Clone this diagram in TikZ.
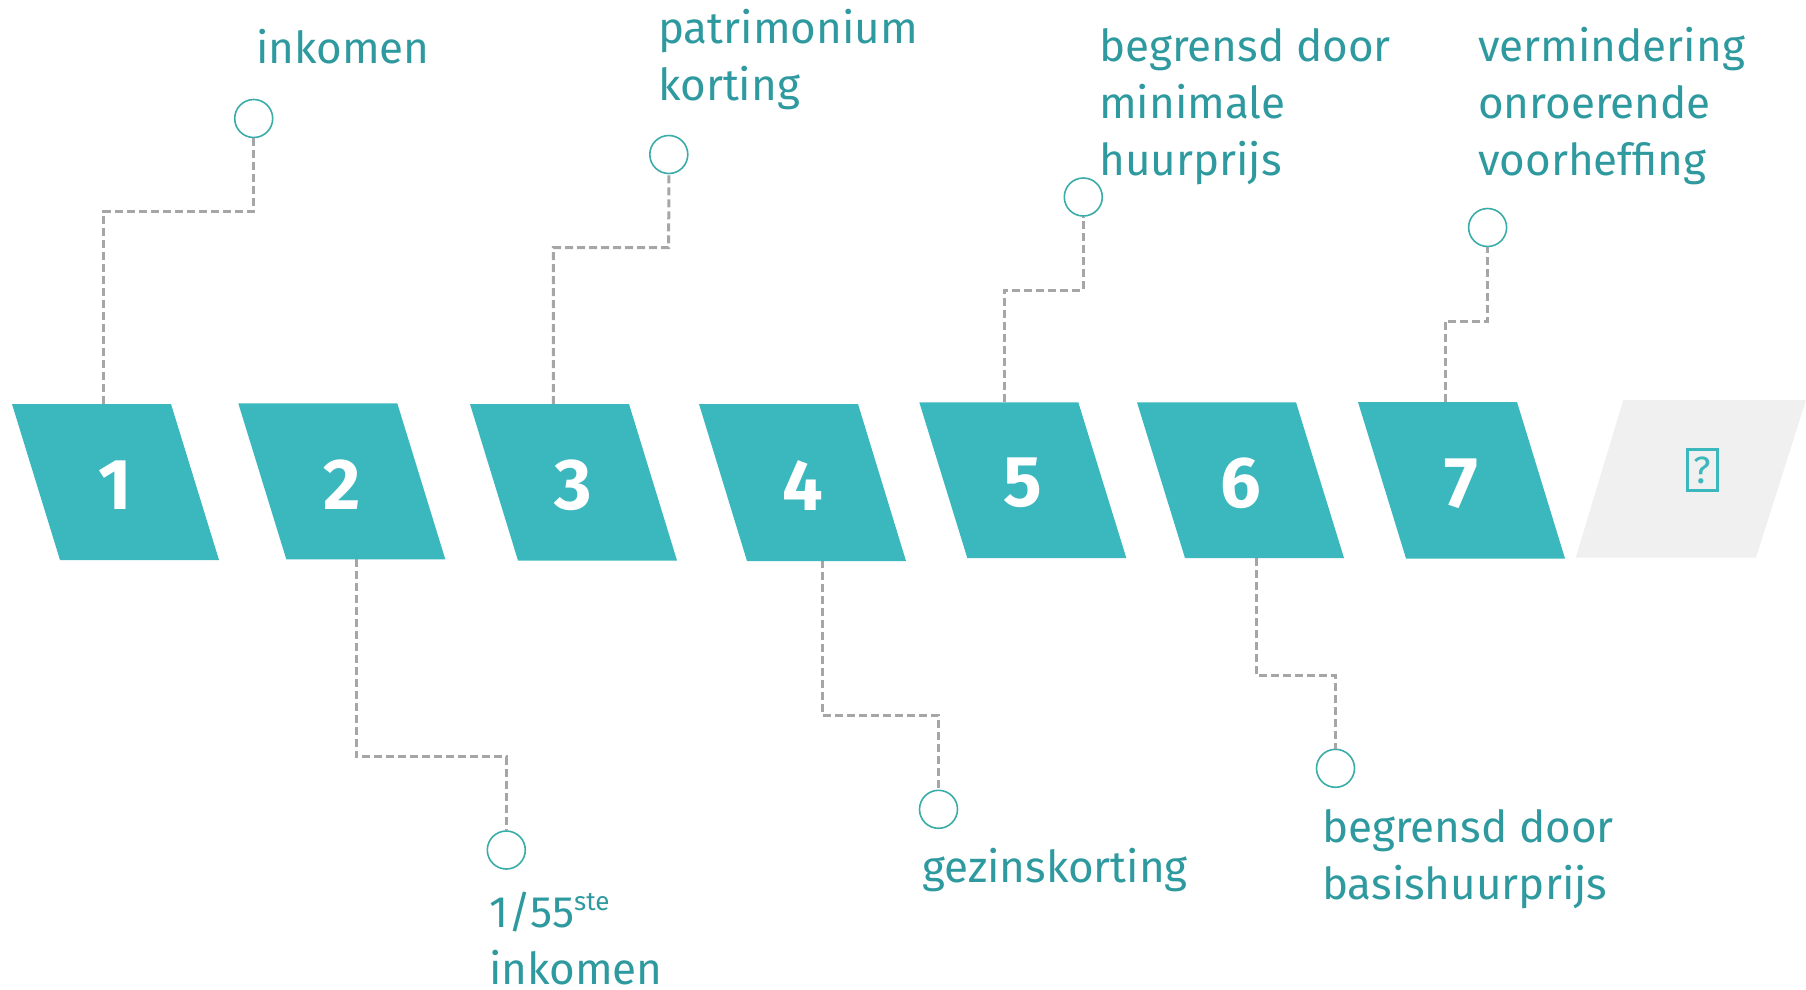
\documentclass[tikz,border=0pt]{standalone}
\usepackage{fontspec}
\setmainfont{Fira Sans}
\usetikzlibrary{calc}

\definecolor{stepfill}{RGB}{59,184,190}
\definecolor{labeltext}{RGB}{46,154,159}
\definecolor{ringline}{RGB}{58,173,168}
\definecolor{dashgrey}{RGB}{166,166,166}
\definecolor{greyshape}{RGB}{240,240,240}

\tikzset{
  digit/.style={text=white, inner sep=0pt, font=\bfseries\fontsize{72}{72}\selectfont},
  ring/.style={circle, draw=ringline, line width=1.6pt, minimum size=38pt, inner sep=0pt},
  conn/.style={draw=dashgrey, line width=3pt, dash pattern=on 8pt off 4pt},
  % labels are placed by the baseline of their last line
  lbl/.style={anchor=base west, inner sep=0pt, align=left, text=labeltext,
              font=\fontsize{44}{57}\selectfont},
}

% one numbered parallelogram: name, top-left x, top y, bottom y, number
\newcommand\stepshape[5]{%
  \fill[stepfill] (#2,#3) -- (#2+159,#3) -- (#2+207,#4) -- (#2+48,#4) -- cycle;
  \node[digit] (#1) at ({#2+103.5},{(#3+#4)/2+3}) {#5};
}

\begin{document}
\begin{tikzpicture}[x=1pt,y=-1pt]
\useasboundingbox (0,0) rectangle (1806,989);

% connectors first, so the shapes sit on top of their ends
\coordinate (s1) at (103.3,404);   \coordinate (b1) at (253.7,211.7);
\coordinate (s2) at (356,559);     \coordinate (b2) at (506.3,756.7);
\coordinate (s3) at (553.3,404);   \coordinate (b3) at (668.7,247.7);
\coordinate (s4) at (822.3,560);   \coordinate (b4) at (938.5,715);
\coordinate (s5) at (1004.3,402);  \coordinate (b5) at (1083.3,290);
\coordinate (s6) at (1256.3,558);  \coordinate (b6) at (1335.5,675);
\coordinate (s7) at (1445,402);    \coordinate (b7) at (1487.6,321);

% circles at the free ends
\node[ring] (k1) at (253.7,118.5) {};
\node[ring] (k2) at (506.3,850) {};
\node[ring] (k3) at (668.8,154.5) {};
\node[ring] (k4) at (938.5,809.3) {};
\node[ring] (k5) at (1083.3,197) {};
\node[ring] (k6) at (1335.5,768.3) {};
\node[ring] (k7) at (1487.6,227.5) {};

\draw[conn] (s1) |- (b1) -- (k1.south);
\draw[conn] (s2) |- (b2) -- (k2.north);
\draw[conn] (s3) |- (b3) -- (k3.south);
\draw[conn] (s4) |- (b4) -- (k4.north);
\draw[conn] (s5) |- (b5) -- (k5.south);
\draw[conn] (s6) |- (b6) -- (k6.north);
\draw[conn] (s7) |- (b7) -- (k7.south);

% numbered steps
\stepshape{p1}{12}{404}{560}{1}
\stepshape{p2}{238.3}{403.3}{559.3}{2}
\stepshape{p3}{470}{404}{560.5}{3}
\stepshape{p4}{699}{404}{561}{4}
\stepshape{p5}{919.3}{402.3}{558}{5}
\stepshape{p6}{1137}{402.3}{558}{6}
\stepshape{p7}{1358}{402}{558.5}{7}

% last, open step
\fill[greyshape] (1623.3,400) -- (1806,400) -- (1756,557.7) -- (1575.7,557.7) -- cycle;
\node[draw=stepfill, line width=3pt, minimum width=30pt, minimum height=41pt,
      inner sep=0pt, text=stepfill, font=\fontsize{38}{38}\selectfont]
  (q) at (1702.2,470.3) {?};

% labels
\node[lbl] (t1) at (256,63.3) {inkomen};
\node[lbl] (t2) at (489,984)
  {1/55\raisebox{16.6pt}{\fontsize{26}{26}\selectfont ste}\\inkomen};
\node[lbl] (t3) at (658,100.3) {patrimonium\\korting};
\node[lbl] (t4) at (922,882.7) {gezinskorting};
\node[lbl] (t5) at (1099,175.7) {begrensd door\\minimale\\huurprijs};
\node[lbl] (t6) at (1322,899.7) {begrensd door\\basishuurprijs};
\node[lbl] (t7) at (1478,175.7) {vermindering\\onroerende\\voorheffing};
\end{tikzpicture}
\end{document}
